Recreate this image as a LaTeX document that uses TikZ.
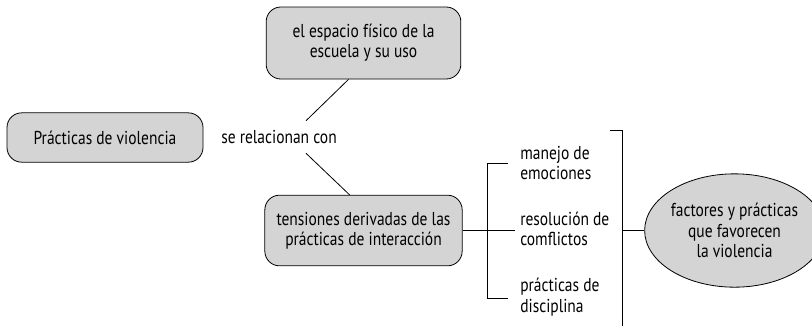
\documentclass[tikz,border=0pt]{standalone}
\usepackage{fontspec}
\setmainfont{PT Sans}[FakeStretch=0.83]
\usetikzlibrary{shapes.geometric,calc}

\tikzset{
  box/.style={draw,semithick,fill=black!17,rounded corners=11pt,align=center,
    font=\fontsize{14}{15.2}\selectfont},
  oval/.style={draw,semithick,fill=black!17,ellipse,inner sep=0pt,align=center,
    font=\fontsize{14}{15.2}\selectfont},
  label/.style={align=left,inner sep=3.75pt,font=\fontsize{14}{15.2}\selectfont},
}

\begin{document}
\begin{tikzpicture}[x=0.75pt,y=-0.75pt]
    \useasboundingbox (0,0) rectangle (812,330);
    \node[box,minimum width=147pt,minimum height=37pt] at (105,137.5) (prac) {Prácticas de violencia};
    \node[box,minimum width=146pt,minimum height=54pt] at (363.5,43) (esp) {el espacio físico de la\\escuela y su uso};
    \node[label,minimum height=24pt] at (279,137) (rel) {se relacionan con};
    \node[box,minimum width=148pt,minimum height=53pt] at (363.5,230.5) (tens) {tensiones derivadas de las\\prácticas de interacción};
    \node[label,anchor=west] at (515,163) (man) {manejo de\\emociones};
    \node[label,anchor=west] at (515,229) (res) {resolución de\\comflictos};
    \node[label,anchor=west] at (515,297) (disc) {prácticas de\\disciplina};
    \node[oval,minimum width=115pt,minimum height=85pt] at (734.5,230.5) (fac) {factores y prácticas\\que favorecen\\la violencia};
    \coordinate (bt) at (508,163);
    \coordinate (bb) at (508,298);
    \coordinate (rt) at (610,130);
    \coordinate (rb) at (622,326);
    \draw [semithick] ($(esp.south)+(-15,0)$) -- ($(rel.north)+(27,0)$);
    \draw [semithick] ($(rel.south)+(27,0)$) -- ($(tens.north)+(-14,0)$);
    \draw [semithick] (tens.east) -- (tens.east -| res.west);
    \draw [semithick] (bt) -- ++(-21,0) |- (bb);
    \draw [semithick] (rt) -| (rb);
    \draw [semithick] (rb |- fac.west) -- (fac.west);
  \end{tikzpicture}
\end{document}
